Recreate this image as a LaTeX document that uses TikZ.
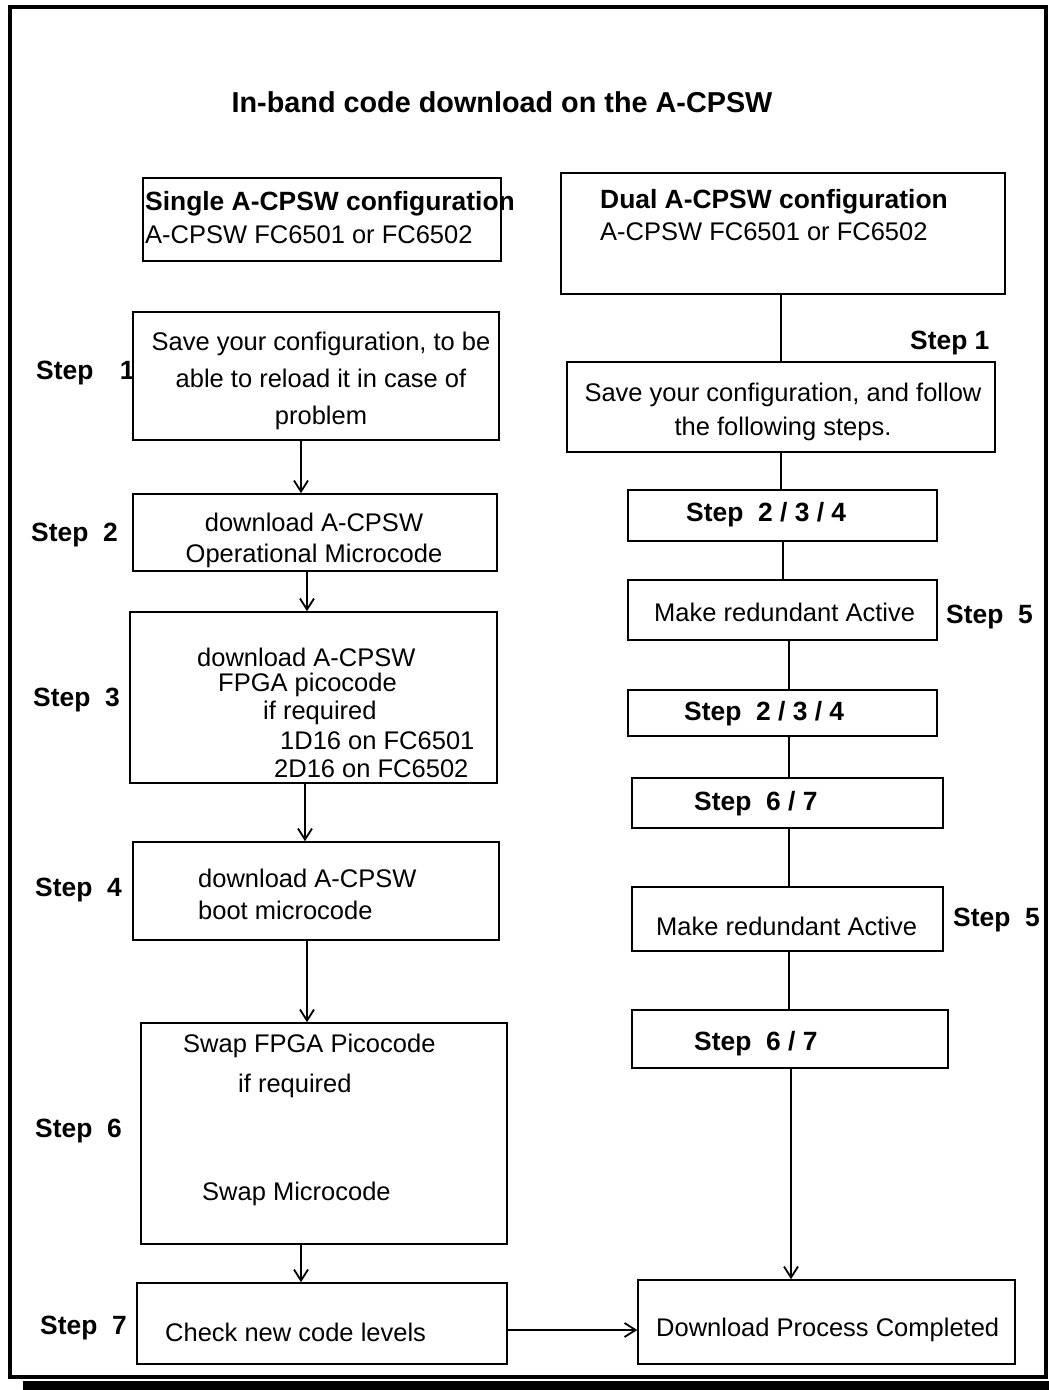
\documentclass[tikz,border=0pt]{standalone}
\usepackage{fontspec}
\setmainfont{Liberation Sans}
\usetikzlibrary{arrows.meta,fit}

\tikzset{
  box/.style={draw, line width=1.6pt, inner sep=0pt},
  txt/.style={inner sep=0pt, font=\fontsize{25.5}{#1}\selectfont},
  txt/.default=32,
  lbl/.style={inner sep=0pt, anchor=west, font=\fontsize{26.4}{30}\selectfont\bfseries},
  link/.style={line width=1.8pt},
  arr/.style={link, -{Straight Barb[length=11pt,width=14pt]}}
}

\begin{document}
\begin{tikzpicture}[x=1pt,y=-1pt]
  \useasboundingbox (0,0) rectangle (1049,1390);
  % outer frame and its shadow
  \fill (23,1381) rectangle (1049,1390);
  \draw[line width=4pt] (9.5,6.5) rectangle (1045.5,1377);

  % title
  \node[inner sep=0pt, font=\fontsize{28.8}{32}\selectfont\bfseries] (title) at (502,102) {In-band code download on the A-CPSW};

  % left column: single A-CPSW
  \node[box, fit={(143,178) (501,261)}] (single) {};
  \node[txt=33, align=left, anchor=west] (singletxt) at (145,218) {{\fontsize{26.4}{33}\selectfont\bfseries Single A-CPSW configuration}\\A-CPSW FC6501 or FC6502};

  \node[box, fit={(133,312) (499,440)}] (save) {};
  \node[txt=37, align=center] (savetxt) at (321,381) {Save your configuration, to be\\able to reload it in case of\\problem};

  \node[box, fit={(133,494) (497,571)}] (op) {};
  \node[txt=31, align=center] (optxt) at (314,540) {download A-CPSW\\Operational Microcode};

  \node[box, fit={(130,612) (497,783)}] (fpga) {};
  \node[txt, anchor=west] (fpga1) at (197,657) {download A-CPSW};
  \node[txt, anchor=west] (fpga2) at (218,685) {FPGA picocode};
  \node[txt, anchor=west] (fpga3) at (263,713) {if required};
  \node[txt, anchor=west] (fpga4) at (280,741) {1D16 on FC6501};
  \node[txt, anchor=west] (fpga5) at (274,769) {2D16 on FC6502};

  \node[box, fit={(133,842) (499,940)}] (boot) {};
  \node[txt=32, align=left, anchor=west] (boottxt) at (198,894) {download A-CPSW\\boot microcode};

  \node[box, fit={(141,1023) (507,1244)}] (swap) {};
  \node[txt, anchor=west] (swap1) at (183,1046) {Swap FPGA Picocode};
  \node[txt, anchor=west] (swap2) at (238,1086) {if required};
  \node[txt, anchor=west] (swap3) at (202,1194) {Swap Microcode};

  \node[box, fit={(137,1283) (507,1364)}] (check) {};
  \node[txt, anchor=west] (checktxt) at (165,1332) {Check new code levels};

  % step labels, left
  \node[lbl] (s1) at (36,373) {Step\quad1};
  \node[lbl] (s2) at (31,535) {Step~~2};
  \node[lbl] (s3) at (33,700) {Step~~3};
  \node[lbl] (s4) at (35,890) {Step~~4};
  \node[lbl] (s6) at (35,1131) {Step~~6};
  \node[lbl] (s7) at (40,1328) {Step~~7};

  % right column: dual A-CPSW
  \node[box, fit={(561,173) (1005,294)}] (dual) {};
  \node[txt=32, align=left, anchor=west] (dualtxt) at (600,215) {{\fontsize{26.4}{32}\selectfont\bfseries Dual A-CPSW configuration}\\A-CPSW FC6501 or FC6502};

  \node[box, fit={(567,362) (995,452)}] (rsave) {};
  \node[txt=34, align=center] (rsavetxt) at (783,412) {Save your configuration, and follow\\the following steps.};

  \node[box, fit={(628,490) (937,541)}] (rba) {};
  \node[lbl] (rbatxt) at (686,515) {Step~~2 / 3 / 4};

  \node[box, fit={(628,580) (937,640)}] (reda) {};
  \node[txt, anchor=west] (redatxt) at (654,612) {Make redundant Active};

  \node[box, fit={(628,690) (937,736)}] (rbb) {};
  \node[lbl] (rbbtxt) at (684,714) {Step~~2 / 3 / 4};

  \node[box, fit={(632,778) (943,828)}] (swa) {};
  \node[lbl] (swatxt) at (694,804) {Step~~6 / 7};

  \node[box, fit={(632,887) (943,951)}] (redb) {};
  \node[txt, anchor=west] (redbtxt) at (656,926) {Make redundant Active};

  \node[box, fit={(632,1010) (948,1068)}] (swb) {};
  \node[lbl] (swbtxt) at (694,1044) {Step~~6 / 7};

  \node[box, fit={(638,1280) (1015,1364)}] (done) {};
  \node[txt, anchor=west] (donetxt) at (656,1330) {Download Process Completed};

  % step labels, right
  \node[lbl] (r1) at (910,343) {Step 1};
  \node[lbl] (r5a) at (946,617) {Step~~5};
  \node[lbl] (r5b) at (953,920) {Step~~5};

  % left flow
  \draw[arr] ([xshift=-15]save.south) -- ([xshift=-15]save.south |- op.north);
  \draw[arr] ([xshift=-8]op.south) -- ([xshift=-8]op.south |- fpga.north);
  \draw[arr] ([xshift=-8.5]fpga.south) -- ([xshift=-8.5]fpga.south |- boot.north);
  \draw[arr] ([xshift=-9]boot.south) -- ([xshift=-9]boot.south |- swap.north);
  \draw[arr] ([xshift=-23]swap.south) -- ([xshift=-23]swap.south |- check.north);
  \draw[arr] ([yshift=-6.5]check.east) -- ([yshift=-6.5]check.east -| done.west);

  % right flow
  \draw[link] ([xshift=-2]dual.south) -- ([xshift=-2]dual.south |- rsave.north);
  \draw[link] (rsave.south) -- (rsave.south |- rba.north);
  \draw[link] ([xshift=0.5]rba.south) -- ([xshift=0.5]rba.south |- reda.north);
  \draw[link] ([xshift=6.5]reda.south) -- ([xshift=6.5]reda.south |- rbb.north);
  \draw[link] ([xshift=6.5]rbb.south) -- ([xshift=6.5]rbb.south |- swa.north);
  \draw[link] ([xshift=1.5]swa.south) -- ([xshift=1.5]swa.south |- redb.north);
  \draw[link] ([xshift=1.5]redb.south) -- ([xshift=1.5]redb.south |- swb.north);
  \draw[arr] ([xshift=1]swb.south) -- ([xshift=1]swb.south |- done.north);
\end{tikzpicture}
\end{document}
